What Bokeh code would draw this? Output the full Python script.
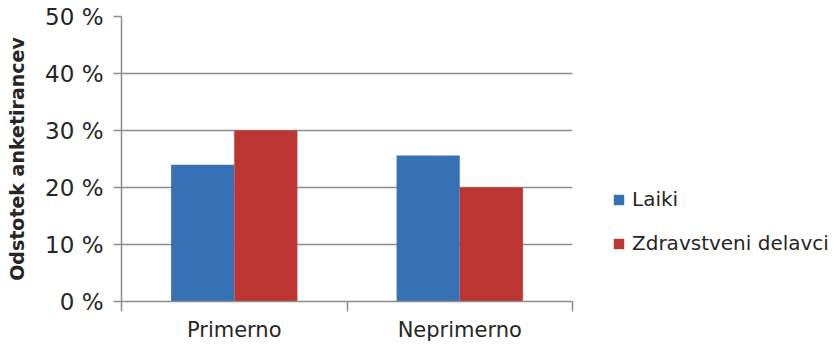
from bokeh.plotting import figure
from bokeh.layouts import row
from bokeh.models import (ColumnDataSource, Range1d, FixedTicker, PrintfTickFormatter,
                          Legend, LegendItem)
from bokeh.transform import dodge
from bokeh.embed import file_html
from bokeh.resources import INLINE

categories = ["Primerno", "Neprimerno"]
series_names = ["Laiki", "Zdravstveni delavci"]
laiki = [24, 25.6]
zdravstveni = [30, 20]
y_ticks = [0, 10, 20, 30, 40, 50]

BLUE = "#3670B5"
RED = "#BD3532"
GRID = "#8C8C8C"
FONT = "DejaVu Sans"
TXT = "#262626"

pos = [i + 0.5 for i in range(len(categories))]
src = ColumnDataSource(dict(x=pos, laiki=laiki, zdr=zdravstveni))

p = figure(width=574, height=347, output_backend="svg", toolbar_location=None,
           x_range=Range1d(0, len(categories)), y_range=Range1d(0, 50),
           min_border_left=121, min_border_right=2, min_border_top=16,
           min_border_bottom=46)
p.outline_line_color = None
p.background_fill_color = "white"
p.border_fill_color = "white"

r1 = p.vbar(x=dodge("x", -0.14), top="laiki", width=0.28, source=src,
            fill_color=BLUE, line_color=None)
r2 = p.vbar(x=dodge("x", 0.14), top="zdr", width=0.28, source=src,
            fill_color=RED, line_color=None)

# y axis
yax = p.yaxis[0]
yax.ticker = FixedTicker(ticks=y_ticks, minor_ticks=[])
yax.formatter = PrintfTickFormatter(format="%d %%")
yax.axis_line_color = GRID
yax.axis_line_width = 1.5
yax.major_tick_line_color = GRID
yax.major_tick_line_width = 1.5
yax.major_tick_out = 8
yax.major_tick_in = 0
yax.minor_tick_line_color = None
yax.major_label_standoff = 10
yax.major_label_text_font = FONT
yax.major_label_text_font_size = "23px"
yax.major_label_text_color = TXT
yax.axis_label = "Odstotek anketirancev"
yax.axis_label_text_font = FONT
yax.axis_label_text_font_size = "19px"
yax.axis_label_text_font_style = "bold"
yax.axis_label_text_color = TXT
yax.axis_label_standoff = 14

# x axis
xax = p.xaxis[0]
xax.ticker = FixedTicker(ticks=pos, minor_ticks=list(range(len(categories) + 1)))
xax.major_label_overrides = {v: c for v, c in zip(pos, categories)}
xax.major_tick_line_color = None
xax.minor_tick_line_color = GRID
xax.minor_tick_line_width = 1.5
xax.minor_tick_out = 10
xax.minor_tick_in = 0
xax.axis_line_color = GRID
xax.axis_line_width = 1.5
xax.major_label_standoff = 6
xax.major_label_text_font = FONT
xax.major_label_text_font_size = "21px"
xax.major_label_text_color = TXT

p.xgrid.grid_line_color = None
p.ygrid.grid_line_color = GRID
p.ygrid.grid_line_width = 1.5

# legend panel to the right (same series, kept out of its view)
q = figure(width=264, height=347, output_backend="svg", toolbar_location=None,
           x_range=Range1d(100, 101), y_range=Range1d(100, 101),
           min_border_left=0, min_border_right=0, min_border_top=0,
           min_border_bottom=0)
q.axis.visible = False
q.grid.visible = False
q.outline_line_color = None
l1 = q.vbar(x="x", top="laiki", width=0.28, source=src, fill_color=BLUE, line_color=None)
l2 = q.vbar(x="x", top="zdr", width=0.28, source=src, fill_color=RED, line_color=None)

legend = Legend(items=[LegendItem(label=series_names[0], renderers=[l1]),
                       LegendItem(label=series_names[1], renderers=[l2])],
                location=(38, 46), orientation="vertical",
                glyph_width=13, glyph_height=13, label_height=20,
                label_standoff=7, spacing=20, padding=0, margin=0,
                border_line_color=None, background_fill_alpha=0,
                label_text_font=FONT, label_text_font_size="20px",
                label_text_color=TXT)
q.add_layout(legend, "center")

open("out.html", "w").write(file_html(row(p, q, spacing=0), INLINE))
